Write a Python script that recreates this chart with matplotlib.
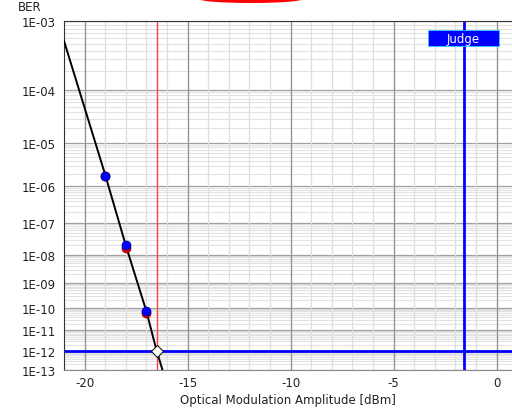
import numpy as np
import matplotlib
matplotlib.use("Agg")
import matplotlib.pyplot as plt
from matplotlib.patches import Ellipse, Rectangle
from matplotlib.transforms import blended_transform_factory

# fitted BER curve
fit_x = [-21.0, -19.0, -18.0, -17.0, -16.5, -16.0]
fit_ber = [5.5e-4, 1.9e-6, 2.0e-8, 7.0e-11, 1.0e-12, 1.5e-14]

# measured points (two channels)
meas_x = [-19.0, -18.0, -17.0]
meas_ber_red = [1.75e-6, 1.7e-8, 5.8e-11]
meas_ber_blue = [1.8e-6, 2.0e-8, 7.0e-11]

# judge / sensitivity
target_ber = 1e-12
sens_x = -16.5
judge_x = -1.6

yticks = [1e-3, 1e-4, 1e-5, 1e-6, 1e-7, 1e-8, 1e-9, 1e-10, 1e-11, 1e-12, 1e-13]
ytick_labels = ["1E-03", "1E-04", "1E-05", "1E-06", "1E-07", "1E-08",
                "1E-09", "1E-10", "1E-11", "1E-12", "1E-13"]


def fwd(b):
    b = np.clip(np.asarray(b, dtype=float), 1e-300, 0.999)
    return -np.log10(-np.log10(b))


def inv(y):
    return 10.0 ** (-(10.0 ** (-np.asarray(y, dtype=float))))


plt.rcParams['font.family'] = ['DejaVu Sans']

fig = plt.figure(figsize=(5.12, 4.10), dpi=100)
ax = fig.add_axes([0.125, 0.095, 0.875, 0.851])
ax.set_yscale('function', functions=(fwd, inv))
ax.set_xlim(-21, 0.75)
ax.set_ylim(1e-13, 1e-3)

# grid
minor_y = [k * 10.0 ** e for e in range(-14, -3) for k in range(2, 10)]
minor_y = [v for v in minor_y if 1e-13 < v < 1e-3]
for v in minor_y:
    ax.axhline(v, color='#e2e2e2', lw=0.8, zorder=0)
for v in yticks:
    ax.axhline(v, color='#a0a0a0', lw=0.9, zorder=0.5)
for xv in range(-21, 1):
    ax.axvline(xv, color='#dedede', lw=0.9, zorder=0.6)
for xv in range(-20, 1, 5):
    ax.axvline(xv, color='#909090', lw=0.9, zorder=0.7)

ax.set_yticks(yticks)
ax.set_yticklabels(ytick_labels)
ax.yaxis.set_minor_locator(matplotlib.ticker.NullLocator())
ax.set_xticks([-20, -15, -10, -5, 0])
ax.set_xticklabels(["-20", "-15", "-10", "-5", "0"])
ax.tick_params(axis='y', length=0, labelsize=8.5, colors='#222222', pad=6)
ax.tick_params(axis='x', length=0, labelsize=8.5, colors='#222222', pad=4)

ax.spines['right'].set_visible(False)
ax.spines['top'].set_color('#333333')
ax.spines['left'].set_color('#333333')
ax.spines['bottom'].set_color('#888888')

# reference lines
ax.axvline(sens_x, color='#ff4040', lw=1.0, zorder=2)
ax.axhline(target_ber, color='#0000ff', lw=2.0, zorder=2)
ax.axvline(judge_x, color='#0000ff', lw=2.0, zorder=2)

# curve and points
ax.plot(fit_x, fit_ber, color='black', lw=1.4, zorder=3)
ax.plot(meas_x, meas_ber_red, 'o', color='#dd0000', ms=6.5, mec='#880000',
        mew=0.5, zorder=4)
ax.plot(meas_x, meas_ber_blue, 'o', color='#0000ff', ms=6.5, mec='#000088',
        mew=0.5, zorder=5)
ax.plot([sens_x], [target_ber], 'D', color='white', mec='black', ms=6,
        mew=0.7, zorder=6)

# judge label
tr = blended_transform_factory(ax.transData, ax.transAxes)
ax.add_patch(Rectangle((judge_x - 1.73, 0.928), 3.46, 0.046, transform=tr,
                       fc='#0000ff', ec='#33ccff', lw=0.6, zorder=7))
ax.text(judge_x, 0.951, "Judge", transform=tr, ha='center', va='center',
        color='white', fontsize=8.5, zorder=8)

ax.set_xlabel("Optical Modulation Amplitude [dBm]", fontsize=8.5,
              color='#222222', labelpad=3)
fig.text(0.035, 0.998, "BER", fontsize=8.5, color='#222222', va='top')

# red annotation ellipse cut at top
fig.patches.append(Ellipse((251 / 512, 1.0), 104 / 512, 8 / 410,
                           transform=fig.transFigure, fc='#ff0000', ec='none'))

fig.savefig("out.png", dpi=100)
